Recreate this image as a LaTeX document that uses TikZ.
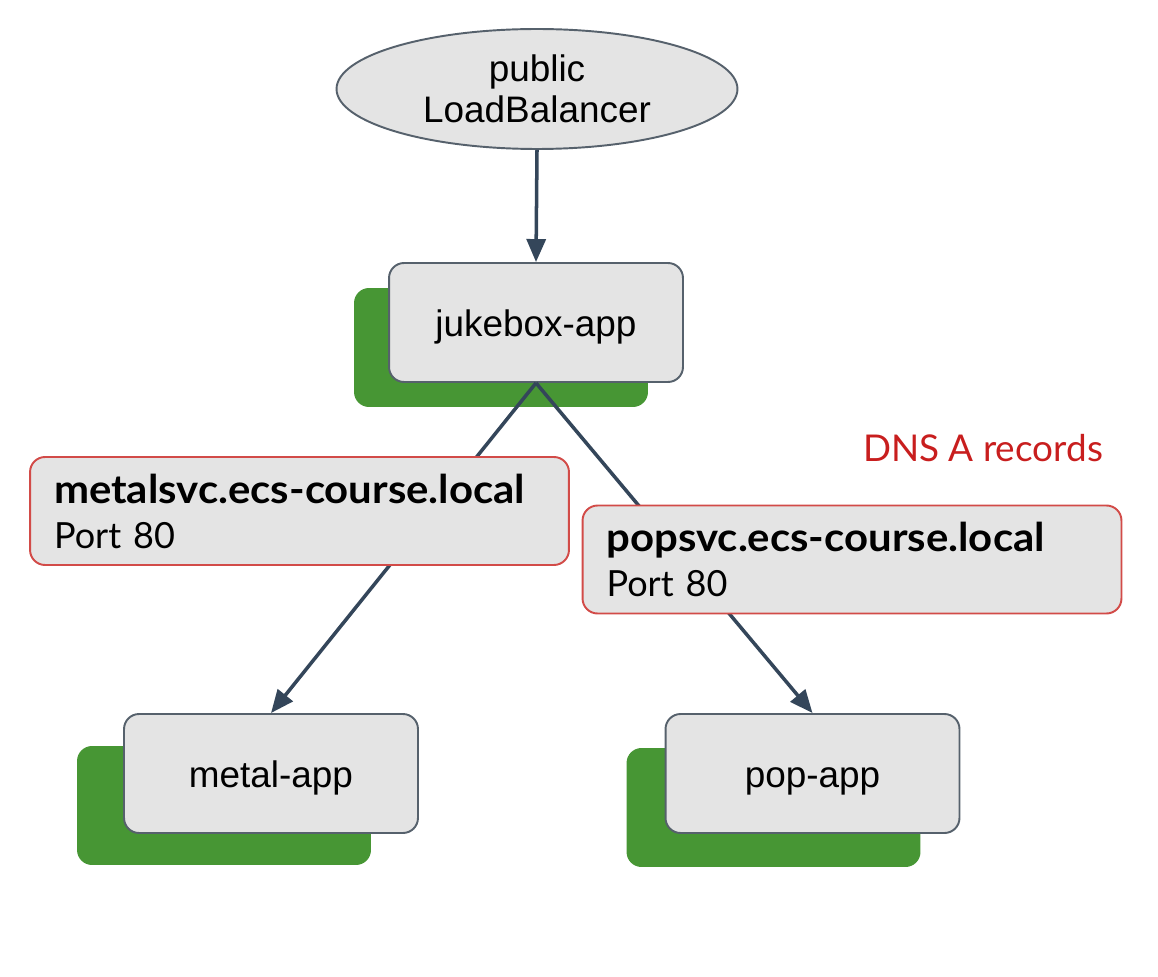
\documentclass[tikz,border=0pt]{standalone}
\usepackage{fontspec}
\setmainfont{Liberation Sans}
\newfontfamily\dnsfont{Lato}[BoldFeatures = {FakeStretch = 1.06}]
\usetikzlibrary{shapes.geometric, arrows.meta, shadows}

\definecolor{boxgray}{HTML}{E4E4E4}
\definecolor{edgegray}{HTML}{56616C}
\definecolor{appgreen}{HTML}{479634}
\definecolor{dnsred}{HTML}{D24B48}
\definecolor{notered}{HTML}{C81E1E}
\definecolor{linkblue}{HTML}{34465A}

\newcommand\svcname[1]{{\fontsize{22.5pt}{25.6pt}\selectfont\bfseries #1}}

\tikzset{appbox/.style 2 args = {draw = edgegray, fill = boxgray, line width = 1.1pt,
           rounded corners = 0.3cm, minimum width = 5.88cm, minimum height = 2.38cm,
           text height = 21pt, text depth = 4.6pt,
           font = \fontsize{21pt}{23pt}\selectfont,
           drop shadow = {shadow xshift = #1, shadow yshift = #2,
                          fill = appgreen, opacity = 1}},
         dnsbox/.style = {draw = dnsred, fill = boxgray, line width = 1.1pt,
           rounded corners = 0.3cm, minimum width = 10.78cm, minimum height = 2.16cm,
           text width = 9.82cm, inner xsep = 0.48cm, align = left,
           font = \dnsfont\fontsize{20.5pt}{25.6pt}\selectfont},
         link/.style = {draw = linkblue, line width = 2pt,
           -{Triangle[length = 0.46cm, width = 0.38cm]}}}

\begin{document}
\begin{tikzpicture}[x = 0.02cm, y = -0.02cm]
  \useasboundingbox (0,0) rectangle (1158,976);

  \node[ellipse, draw = edgegray, fill = boxgray, line width = 1.1pt,
    minimum width = 8.02cm, minimum height = 2.4cm, inner sep = 0pt, align = center,
    font = \fontsize{21pt}{23pt}\selectfont] (lb) at (537,89) {public\\LoadBalancer};

  \node[appbox = {-0.7cm}{-0.5cm}] (juke) at (536,322.5) {jukebox-app};
  \node[appbox = {-0.94cm}{-0.64cm}] (metal) at (271,773.5) {metal-app};
  \node[appbox = {-0.78cm}{-0.68cm}] (pop) at (812.5,773.5) {pop-app};

  \draw[link] (lb.south) -- (juke.north);
  \draw[link] (juke.south) -- (metal.north);
  \draw[link] (juke.south) -- (pop.north);

  % service names sit over the links
  \node[dnsbox] (metalsvc) at (299.5,511)
    {\svcname{metalsvc.ecs-course.local}\\Port 80};
  \node[dnsbox] (popsvc) at (852,559.5)
    {\svcname{popsvc.ecs-course.local}\\Port 80};

  \node[text = notered, font = \dnsfont\fontsize{21pt}{24pt}\selectfont]
    (dnsnote) at (983,448) {DNS A records};
\end{tikzpicture}
\end{document}
